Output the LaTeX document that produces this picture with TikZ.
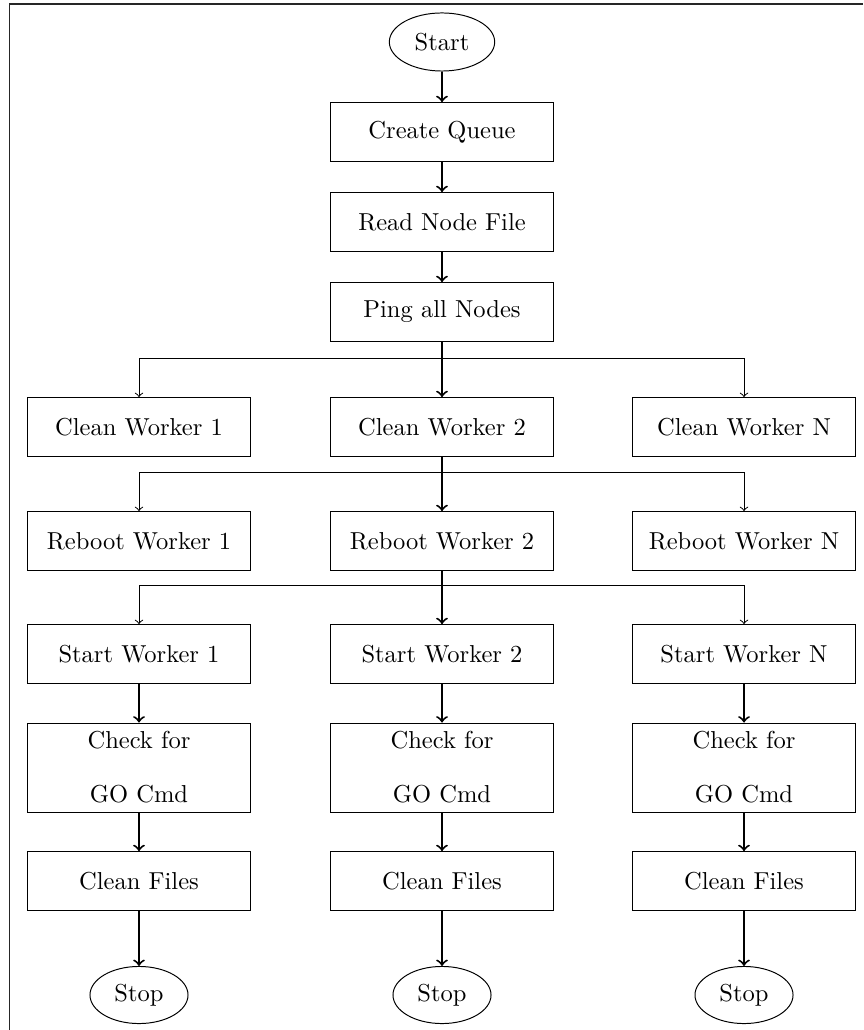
\documentclass[tikz,border=0pt]{standalone}
\usetikzlibrary{shapes.geometric}
\begin{document}
\begin{tikzpicture}[x=0.408pt,y=-0.408pt,
  stepbox/.style={draw,rectangle,minimum width=90.6pt,minimum height=24pt,inner sep=2pt},
  tallbox/.style={draw,rectangle,minimum width=90.6pt,minimum height=36.3pt,inner sep=1pt,align=center},
  termnode/.style={draw,ellipse,inner sep=1pt},
  mainarrow/.style={->,thick},
  brancharrow/.style={->}]
\useasboundingbox (0,0) rectangle (863,1030);
\coordinate (fbl) at (9.5,1030);
\coordinate (ftl) at (9.5,4);
\coordinate (ftr) at (863,4);
\draw[line width=0.5pt,black!85] (fbl) -- (ftl) -- (ftr);

\node[termnode,minimum width=43pt,minimum height=23.7pt] (start) at (442,42) {Start};
\node[stepbox] (queue) at (442,132) {Create Queue};
\node[stepbox] (read) at (442,222) {Read Node File};
\node[stepbox] (ping) at (442,312) {Ping all Nodes};

\node[stepbox] (c1) at (139,427) {Clean Worker 1};
\node[stepbox] (c2) at (442,427) {Clean Worker 2};
\node[stepbox] (cn) at (744,427) {Clean Worker N};

\node[stepbox] (r1) at (139,541) {Reboot Worker 1};
\node[stepbox] (r2) at (442,541) {Reboot Worker 2};
\node[stepbox] (rn) at (744,541) {Reboot Worker N};

\node[stepbox] (s1) at (139,654) {Start Worker 1};
\node[stepbox] (s2) at (442,654) {Start Worker 2};
\node[stepbox] (sn) at (744,654) {Start Worker N};

\node[tallbox] (g1) at (139,767.5) {Check for\\[10pt]GO Cmd};
\node[tallbox] (g2) at (442,767.5) {Check for\\[10pt]GO Cmd};
\node[tallbox] (gn) at (744,767.5) {Check for\\[10pt]GO Cmd};

\node[stepbox] (f1) at (139,881) {Clean Files};
\node[stepbox] (f2) at (442,881) {Clean Files};
\node[stepbox] (fn) at (744,881) {Clean Files};

\node[termnode,minimum width=40pt,minimum height=23.3pt] (e1) at (139,995) {Stop};
\node[termnode,minimum width=40pt,minimum height=23.3pt] (e2) at (442,995) {Stop};
\node[termnode,minimum width=40pt,minimum height=23.3pt] (en) at (744,995) {Stop};

\draw[mainarrow] (start) -- (queue);
\draw[mainarrow] (queue) -- (read);
\draw[mainarrow] (read) -- (ping);

\draw[mainarrow] (ping) -- (c2);
\draw[brancharrow] (ping.south) -- ++(0,17) -| (c1.north);
\draw[brancharrow] (ping.south) -- ++(0,17) -| (cn.north);

\draw[mainarrow] (c2) -- (r2);
\draw[brancharrow] (c2.south) -- ++(0,16) -| (r1.north);
\draw[brancharrow] (c2.south) -- ++(0,16) -| (rn.north);

\draw[mainarrow] (r2) -- (s2);
\draw[brancharrow] (r2.south) -- ++(0,15) -| (s1.north);
\draw[brancharrow] (r2.south) -- ++(0,15) -| (sn.north);

\foreach \c in {1,2,n}{
  \draw[mainarrow] (s\c) -- (g\c);
  \draw[mainarrow] (g\c) -- (f\c);
  \draw[mainarrow] (f\c) -- (e\c);
}
\end{tikzpicture}
\end{document}
